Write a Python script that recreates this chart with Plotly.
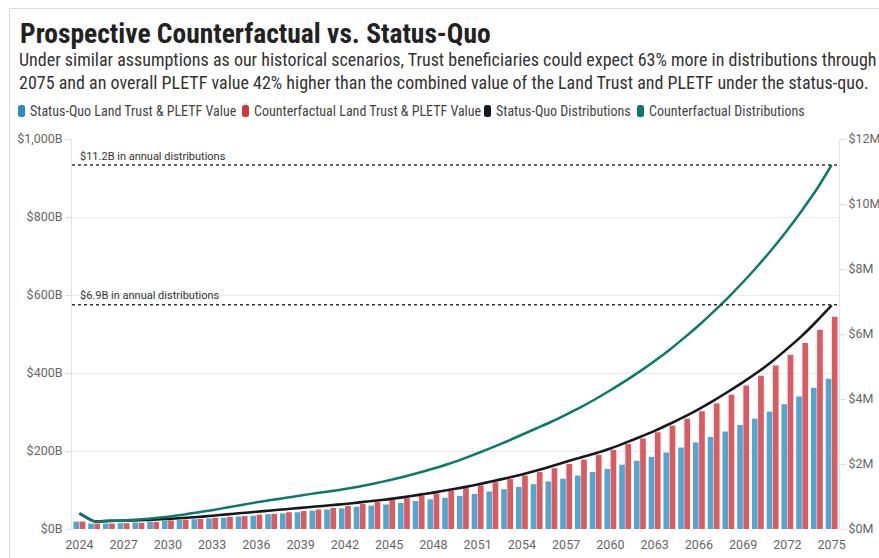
import plotly.graph_objects as go

W, H = 879, 558
ML, MR, MT, MB = 72, 40, 139, 29

years = list(range(2024, 2076))

# Land Trust & PLETF value ($B)
status_quo_value = [19, 14, 14, 15, 17, 19, 21, 23, 25, 27, 29, 32, 34, 38, 40, 43,
                    47, 50, 53, 57, 60, 63, 67, 72, 76, 80, 85, 90, 96, 102, 108, 115,
                    122, 129, 137, 146, 154, 165, 175, 185, 196, 209, 222, 236, 250, 267,
                    283, 301, 320, 340, 362, 385]
counterfactual_value = [19, 14, 14, 15, 16, 18, 22, 24, 26, 29, 31, 33, 37, 39, 43, 46,
                        50, 54, 59, 64, 69, 74, 79, 85, 91, 98, 105, 112, 120, 128, 137, 146,
                        156, 167, 178, 190, 203, 218, 232, 248, 265, 283, 302, 322, 344, 368,
                        393, 419, 447, 477, 511, 544]

# Annual distributions ($M, right axis)
status_quo_dist = [0.48, 0.24, 0.25, 0.26, 0.27, 0.29, 0.31, 0.34, 0.37, 0.41, 0.45, 0.49,
                   0.53, 0.57, 0.61, 0.65, 0.69, 0.73, 0.77, 0.82, 0.87, 0.92, 0.98, 1.05,
                   1.12, 1.20, 1.28, 1.37, 1.47, 1.57, 1.68, 1.80, 1.93, 2.07, 2.20, 2.33,
                   2.48, 2.65, 2.83, 3.02, 3.23, 3.45, 3.69, 3.95, 4.23, 4.52, 4.83, 5.17,
                   5.55, 5.95, 6.40, 6.88]
counterfactual_dist = [0.48, 0.24, 0.25, 0.26, 0.29, 0.33, 0.38, 0.44, 0.51, 0.58, 0.66, 0.74,
                       0.82, 0.89, 0.96, 1.03, 1.10, 1.16, 1.23, 1.31, 1.40, 1.50, 1.61, 1.73,
                       1.86, 2.00, 2.16, 2.33, 2.51, 2.70, 2.90, 3.10, 3.30, 3.52, 3.75, 4.00,
                       4.27, 4.55, 4.85, 5.17, 5.51, 5.88, 6.27, 6.69, 7.13, 7.60, 8.10, 8.63,
                       9.20, 9.81, 10.46, 11.2]

x_ticks = list(range(2024, 2076, 3))
y_left_ticks = [0, 200, 400, 600, 800, 1000]
y_left_labels = ["$0B", "$200B", "$400B", "$600B", "$800B", "$1,000B"]
y_right_ticks = [0, 2, 4, 6, 8, 10, 12]
y_right_labels = ["$0M", "$2M", "$4M", "$6M", "$8M", "$10M", "$12M"]

ref_levels = [11.2, 6.9]
ref_labels = ["$11.2B in annual distributions", "$6.9B in annual distributions"]

title = "Prospective Counterfactual vs. Status-Quo"
subtitle = ("Under similar assumptions as our historical scenarios, Trust beneficiaries could expect 63% more in distributions through"
            "<br>2075 and an overall PLETF value 42% higher than the combined value of the Land Trust and PLETF under the status-quo.")
legend_names = ["Status-Quo Land Trust & PLETF Value", "Counterfactual Land Trust & PLETF Value",
                "Status-Quo Distributions", "Counterfactual Distributions"]

BLUE_BAR, RED_BAR = "#53a6d2", "#dd5a61"
BLUE, RED, BLACK, GREEN = "#2b8bc8", "#d63539", "#15181c", "#0b7a6b"
FONT = "Roboto, sans-serif"
COND = "Roboto Condensed, Liberation Sans Narrow, DejaVu Sans Condensed, Roboto, sans-serif"

PW = W - ML - MR
PH = H - MT - MB


def px(x):
    return (x - ML) / PW


def py(y):
    return 1 - (y - MT) / PH


def rounded_rect(x0, y0, x1, y1, r):
    X0, X1, Y0, Y1 = px(x0), px(x1), py(y0), py(y1)
    rx, ry = r / PW, r / PH
    return (f"M {X0 + rx} {Y0} L {X1 - rx} {Y0} Q {X1} {Y0} {X1} {Y0 - ry} "
            f"L {X1} {Y1 + ry} Q {X1} {Y1} {X1 - rx} {Y1} L {X0 + rx} {Y1} "
            f"Q {X0} {Y1} {X0} {Y1 + ry} L {X0} {Y0 - ry} Q {X0} {Y0} {X0 + rx} {Y0} Z")


fig = go.Figure()
fig.add_trace(go.Bar(x=years, y=status_quo_value, name=legend_names[0], marker_color=BLUE_BAR,
                     marker_line_width=0))
fig.add_trace(go.Bar(x=years, y=counterfactual_value, name=legend_names[1], marker_color=RED_BAR,
                     marker_line_width=0))
fig.add_trace(go.Scatter(x=years, y=status_quo_dist, name=legend_names[2], mode="lines",
                         line=dict(color=BLACK, width=2.6, shape="spline", smoothing=0.6), yaxis="y2"))
fig.add_trace(go.Scatter(x=years, y=counterfactual_dist, name=legend_names[3], mode="lines",
                         line=dict(color=GREEN, width=2.5, shape="spline", smoothing=0.6), yaxis="y2"))

shapes = []
annotations = []
for lvl, lab in zip(ref_levels, ref_labels):
    shapes.append(dict(type="line", xref="x domain", yref="y2", x0=0, x1=1, y0=lvl, y1=lvl,
                       line=dict(color="#333333", width=1.6, dash="dot")))
    annotations.append(dict(xref="paper", yref="y2", x=px(78), y=lvl, yshift=9, text=lab,
                            showarrow=False, xanchor="left", yanchor="middle",
                            font=dict(family=FONT, size=11, color="#333333")))

# card border
shapes.append(dict(type="line", xref="paper", yref="paper", x0=px(9.5), x1=px(W + 5),
                   y0=py(8.5), y1=py(8.5), line=dict(color="#dddddd", width=1)))
shapes.append(dict(type="line", xref="paper", yref="paper", x0=px(9.5), x1=px(9.5),
                   y0=py(8.5), y1=py(H + 5), line=dict(color="#dddddd", width=1)))

annotations.append(dict(xref="paper", yref="paper", x=px(18), y=py(33), text="<b>" + title + "</b>",
                        showarrow=False, xanchor="left", yanchor="middle",
                        font=dict(family=COND, size=27.5, color="#222222")))
annotations.append(dict(xref="paper", yref="paper", x=px(17), y=py(71), text=subtitle,
                        showarrow=False, xanchor="left", yanchor="middle", align="left",
                        font=dict(family=COND, size=18, color="#333333")))

legend_colors = [BLUE, RED, BLACK, GREEN]
legend_x = [18, 242, 484, 637]
for name, col, lx in zip(legend_names, legend_colors, legend_x):
    shapes.append(dict(type="path", xref="paper", yref="paper",
                       path=rounded_rect(lx, 105, lx + 7, 117, 2.5),
                       fillcolor=col, line=dict(width=0)))
    annotations.append(dict(xref="paper", yref="paper", x=px(lx + 10), y=py(111), text=name,
                            showarrow=False, xanchor="left", yanchor="middle",
                            font=dict(family=COND, size=14, color="#444444")))

fig.update_layout(
    width=W, height=H,
    margin=dict(l=ML, r=MR, t=MT, b=MB, pad=0),
    paper_bgcolor="white", plot_bgcolor="white",
    barmode="group", bargap=0.16, bargroupgap=0.08,
    showlegend=False,
    font=dict(family=FONT, size=12, color="#666666"),
    xaxis=dict(type="category", tickmode="array", tickvals=x_ticks, ticktext=[str(v) for v in x_ticks],
               showgrid=False, showline=False, ticks="", tickfont=dict(size=12.5, color="#666666"),
               range=[-0.5, len(years) - 0.5], automargin=False, ticklabelstandoff=6),
    yaxis=dict(range=[0, 1000], tickvals=y_left_ticks, ticktext=y_left_labels, showgrid=True,
               gridcolor="#ebebeb", gridwidth=1, showline=True, linecolor="#e3e3e3", linewidth=1,
               ticks="outside", ticklen=6, tickcolor="#dddddd", zeroline=False, automargin=False,
               tickfont=dict(size=12.5, color="#666666")),
    yaxis2=dict(range=[0, 12], tickvals=y_right_ticks, ticktext=y_right_labels, overlaying="y",
                side="right", showgrid=False, showline=True, linecolor="#e3e3e3", linewidth=1,
                ticks="outside", ticklen=6, tickcolor="#dddddd", zeroline=False, automargin=False,
                tickfont=dict(size=12.5, color="#666666")),
    shapes=shapes, annotations=annotations,
)

fig.write_html("out.html")
